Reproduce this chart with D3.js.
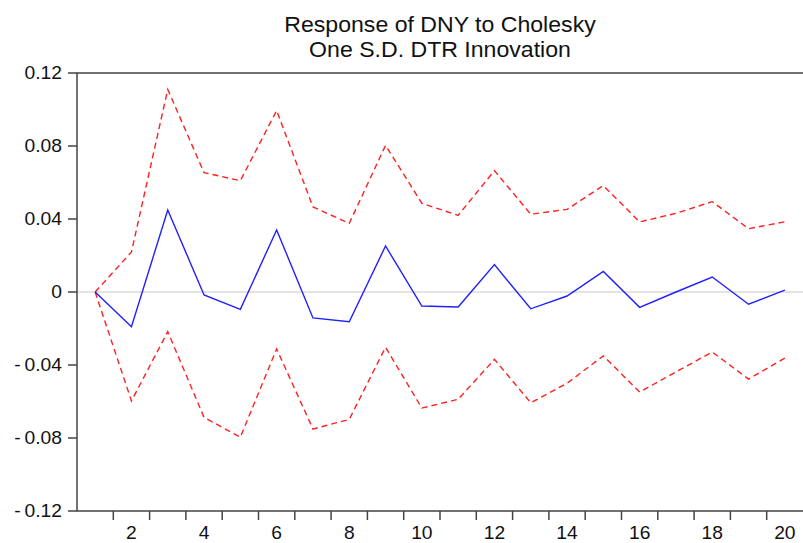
<html>
<head>
<meta charset="utf-8">
<script src="https://d3js.org/d3.v7.min.js"></script>
<style>
body {
	margin: 0;
	background: #fff;
	font-family: "Liberation Sans", Arial, sans-serif;
}
</style>
</head>
<body>
<svg id="chart" width="803" height="543"></svg>
<script>

var periods = d3.range(1, 21)

var response = [0, -0.019, 0.0449, -0.0016, -0.0095, 0.034, -0.0142, -0.0163, 0.0252, -0.0077,
	-0.0082, 0.015, -0.0092, -0.0022, 0.0113, -0.0084, 0.0, 0.0082, -0.0067, 0.001]

var upper = [0, 0.0219, 0.111, 0.0654, 0.061, 0.0994, 0.0466, 0.0376, 0.0804, 0.0486,
	0.042, 0.0665, 0.0426, 0.0453, 0.0583, 0.0384, 0.0431, 0.0495, 0.0347, 0.0385]

var lower = [0, -0.0597, -0.0217, -0.0687, -0.0796, -0.0312, -0.0751, -0.0698, -0.0303, -0.0636,
	-0.0588, -0.0369, -0.0607, -0.050, -0.035, -0.0548, -0.0438, -0.0329, -0.0477, -0.0362]

var yTicks = [-0.12, -0.08, -0.04, 0, 0.04, 0.08, 0.12]
var xLabels = [2, 4, 6, 8, 10, 12, 14, 16, 18, 20]

var title = ["Response of DNY to Cholesky", "One S.D. DTR Innovation"]

var svg = d3.select("#chart"),
	margin = {top: 73, left: 77, bottom: 32, right: 0},
	width = +svg.attr("width"),
	height = +svg.attr("height");

var x = d3.scaleLinear()
	.domain([0.5, 20.5])
	.range([margin.left, width - margin.right])

var y = d3.scaleLinear()
	.domain([-0.12, 0.12])
	.range([height - margin.bottom, margin.top])

var axisColor = "#444"
var stretch = 1.1

// zero line
svg.append("line")
	.attr("x1", x(0.5)).attr("x2", x(20.5))
	.attr("y1", y(0)).attr("y2", y(0))
	.attr("stroke", "#c8c8c8")
	.attr("stroke-width", 1)

// frame (left, top, bottom)
svg.append("path")
	.attr("d", `M${width},${y(0.12)}H${x(0.5)}V${y(-0.12)}H${width}`)
	.attr("fill", "none")
	.attr("stroke", axisColor)
	.attr("stroke-width", 1.5)

// y ticks
var yAxis = svg.append("g")
yAxis.selectAll("line")
	.data(yTicks)
	.enter().append("line")
	.attr("x1", x(0.5) - 9).attr("x2", x(0.5))
	.attr("y1", d => y(d)).attr("y2", d => y(d))
	.attr("stroke", axisColor)
	.attr("stroke-width", 1.5)

yAxis.selectAll("text")
	.data(yTicks)
	.enter().append("text")
	.attr("transform", d => `translate(${x(0.5) - 15},${y(d)}) scale(${stretch},1)`)
	.attr("dy", "0.36em")
	.attr("text-anchor", "end")
	.attr("font-size", 17.5)
	.attr("fill", "#111")
	.text(d => d == 0 ? "0" : d < 0 ? "-\u2009" + d3.format(".2f")(-d) : d3.format(".2f")(d))

// x ticks at period boundaries
var xAxis = svg.append("g")
xAxis.selectAll("line")
	.data(d3.range(1.5, 20, 1))
	.enter().append("line")
	.attr("x1", d => x(d)).attr("x2", d => x(d))
	.attr("y1", y(-0.12)).attr("y2", y(-0.12) + 9)
	.attr("stroke", axisColor)
	.attr("stroke-width", 1.5)

xAxis.selectAll("text")
	.data(xLabels)
	.enter().append("text")
	.attr("transform", d => `translate(${x(d)},${y(-0.12) + 28}) scale(${stretch},1)`)
	.attr("text-anchor", "middle")
	.attr("font-size", 17.5)
	.attr("fill", "#111")
	.text(d => d)

// title
svg.append("g").selectAll("text")
	.data(title)
	.enter().append("text")
	.attr("transform", (d, i) => `translate(${(x(0.5) + x(20.5)) / 2},${32 + i * 25}) scale(1.05,1)`)
	.attr("text-anchor", "middle")
	.attr("font-size", 22)
	.attr("fill", "#111")
	.text(d => d)

var line = d3.line()
	.x((d, i) => x(periods[i]))
	.y(d => y(d))

svg.append("path")
	.datum(upper)
	.attr("d", line)
	.attr("fill", "none")
	.attr("stroke", "#ff2020")
	.attr("stroke-width", 1.4)
	.attr("stroke-dasharray", "6,4")

svg.append("path")
	.datum(lower)
	.attr("d", line)
	.attr("fill", "none")
	.attr("stroke", "#ff2020")
	.attr("stroke-width", 1.4)
	.attr("stroke-dasharray", "6,4")

svg.append("path")
	.datum(response)
	.attr("d", line)
	.attr("fill", "none")
	.attr("stroke", "#2020ff")
	.attr("stroke-width", 1.4)

</script>
</body>
</html>
